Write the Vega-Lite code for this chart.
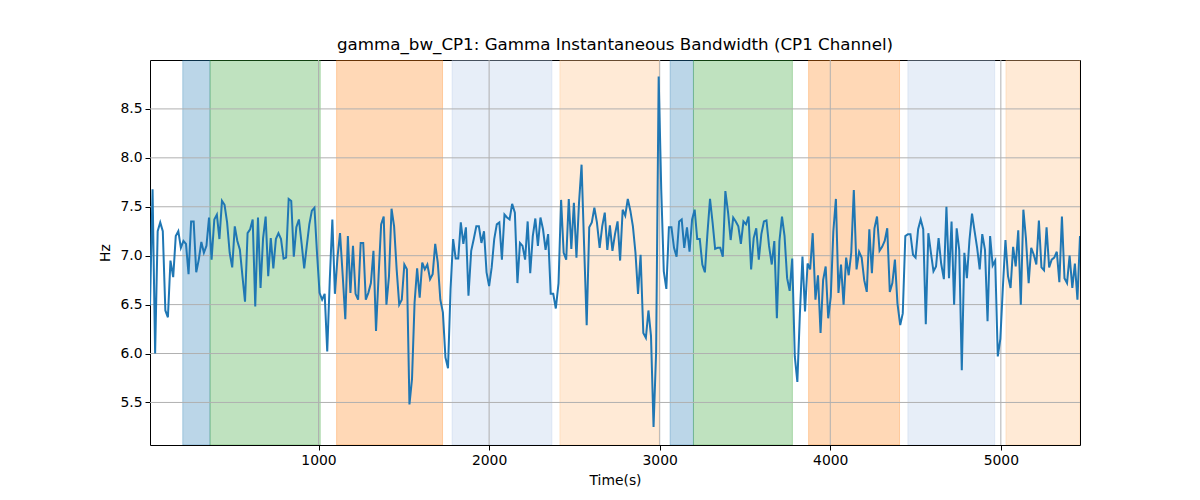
{
  "$schema": "https://vega.github.io/schema/vega-lite/v6.json",
  "description": "gamma_bw_CP1: Gamma Instantaneous Bandwidth (CP1 Channel)",
  "width": 930,
  "height": 385,
  "autosize": "none",
  "padding": {"left": 150, "top": 60, "right": 120, "bottom": 55},
  "title": {
    "text": "gamma_bw_CP1: Gamma Instantaneous Bandwidth (CP1 Channel)",
    "fontSize": 16.7,
    "fontWeight": "normal",
    "font": "DejaVu Sans",
    "color": "black",
    "anchor": "middle",
    "offset": 6
  },
  "datasets": {
    "spans": [
      {"start": 204, "end": 364, "kind": "blue"},
      {"start": 364, "end": 1010, "kind": "green"},
      {"start": 1106, "end": 1727, "kind": "orange"},
      {"start": 1783, "end": 2368, "kind": "lightblue"},
      {"start": 2415, "end": 2997, "kind": "lightorange"},
      {"start": 3061, "end": 3198, "kind": "blue"},
      {"start": 3198, "end": 3778, "kind": "green"},
      {"start": 3873, "end": 4406, "kind": "orange"},
      {"start": 4455, "end": 4964, "kind": "lightblue"},
      {"start": 5030, "end": 5464, "kind": "lightorange"}
    ],
    "xgrid": [{"g": 1000}, {"g": 2000}, {"g": 3000}, {"g": 4000}, {"g": 5000}],
    "ygrid": [{"g": 5.5}, {"g": 6.0}, {"g": 6.5}, {"g": 7.0}, {"g": 7.5}, {"g": 8.0}, {"g": 8.5}],
    "series": [
      {"t": 12, "v": 6.49}, {"t": 27, "v": 7.68}, {"t": 42, "v": 6.0}, {"t": 57, "v": 7.25}, {"t": 72, "v": 7.34},
      {"t": 87, "v": 7.25}, {"t": 102, "v": 6.44}, {"t": 117, "v": 6.37}, {"t": 132, "v": 6.95}, {"t": 148, "v": 6.78},
      {"t": 163, "v": 7.2}, {"t": 178, "v": 7.25}, {"t": 193, "v": 7.08}, {"t": 208, "v": 7.15}, {"t": 223, "v": 7.12},
      {"t": 238, "v": 6.81}, {"t": 253, "v": 7.35}, {"t": 268, "v": 7.35}, {"t": 283, "v": 6.83}, {"t": 298, "v": 6.96},
      {"t": 313, "v": 7.14}, {"t": 328, "v": 7.03}, {"t": 343, "v": 7.1}, {"t": 358, "v": 7.39}, {"t": 373, "v": 6.96},
      {"t": 389, "v": 7.37}, {"t": 404, "v": 7.42}, {"t": 419, "v": 7.17}, {"t": 434, "v": 7.56}, {"t": 449, "v": 7.52},
      {"t": 464, "v": 7.34}, {"t": 479, "v": 7.03}, {"t": 494, "v": 6.88}, {"t": 509, "v": 7.3}, {"t": 524, "v": 7.15},
      {"t": 539, "v": 7.06}, {"t": 554, "v": 6.79}, {"t": 569, "v": 6.53}, {"t": 584, "v": 7.23}, {"t": 599, "v": 7.27},
      {"t": 614, "v": 7.37}, {"t": 629, "v": 6.48}, {"t": 645, "v": 7.39}, {"t": 660, "v": 6.67}, {"t": 675, "v": 7.18},
      {"t": 690, "v": 7.4}, {"t": 705, "v": 6.79}, {"t": 720, "v": 7.18}, {"t": 735, "v": 6.87}, {"t": 750, "v": 7.17},
      {"t": 765, "v": 7.23}, {"t": 780, "v": 7.17}, {"t": 795, "v": 6.97}, {"t": 810, "v": 6.98}, {"t": 825, "v": 7.58},
      {"t": 840, "v": 7.56}, {"t": 855, "v": 6.99}, {"t": 870, "v": 7.29}, {"t": 885, "v": 7.37}, {"t": 901, "v": 7.12},
      {"t": 916, "v": 6.87}, {"t": 931, "v": 7.1}, {"t": 946, "v": 7.32}, {"t": 961, "v": 7.46}, {"t": 976, "v": 7.49},
      {"t": 991, "v": 7.03}, {"t": 1006, "v": 6.62}, {"t": 1021, "v": 6.55}, {"t": 1036, "v": 6.61}, {"t": 1051, "v": 6.02},
      {"t": 1066, "v": 6.76}, {"t": 1081, "v": 7.37}, {"t": 1096, "v": 6.61}, {"t": 1111, "v": 6.98}, {"t": 1126, "v": 7.23},
      {"t": 1142, "v": 6.79}, {"t": 1157, "v": 6.35}, {"t": 1172, "v": 7.2}, {"t": 1187, "v": 6.62}, {"t": 1202, "v": 7.1},
      {"t": 1217, "v": 6.61}, {"t": 1232, "v": 6.55}, {"t": 1247, "v": 7.13}, {"t": 1262, "v": 7.13}, {"t": 1277, "v": 6.55},
      {"t": 1292, "v": 6.62}, {"t": 1307, "v": 6.72}, {"t": 1322, "v": 7.05}, {"t": 1337, "v": 6.23}, {"t": 1352, "v": 6.79},
      {"t": 1367, "v": 7.32}, {"t": 1382, "v": 7.4}, {"t": 1398, "v": 6.5}, {"t": 1413, "v": 6.79}, {"t": 1428, "v": 7.48},
      {"t": 1443, "v": 7.3}, {"t": 1458, "v": 6.86}, {"t": 1473, "v": 6.5}, {"t": 1488, "v": 6.55}, {"t": 1503, "v": 6.91},
      {"t": 1518, "v": 6.86}, {"t": 1533, "v": 5.48}, {"t": 1548, "v": 5.74}, {"t": 1563, "v": 6.52}, {"t": 1578, "v": 6.87},
      {"t": 1593, "v": 6.57}, {"t": 1608, "v": 6.93}, {"t": 1623, "v": 6.86}, {"t": 1638, "v": 6.91}, {"t": 1654, "v": 6.76},
      {"t": 1669, "v": 6.81}, {"t": 1684, "v": 7.12}, {"t": 1699, "v": 6.93}, {"t": 1714, "v": 6.55}, {"t": 1729, "v": 6.42},
      {"t": 1744, "v": 5.96}, {"t": 1759, "v": 5.85}, {"t": 1774, "v": 6.66}, {"t": 1789, "v": 7.17}, {"t": 1804, "v": 6.97},
      {"t": 1819, "v": 6.97}, {"t": 1834, "v": 7.34}, {"t": 1849, "v": 7.12}, {"t": 1864, "v": 7.29}, {"t": 1879, "v": 6.59},
      {"t": 1895, "v": 7.05}, {"t": 1910, "v": 7.17}, {"t": 1925, "v": 7.3}, {"t": 1940, "v": 7.3}, {"t": 1955, "v": 7.13},
      {"t": 1970, "v": 7.25}, {"t": 1985, "v": 6.83}, {"t": 2000, "v": 6.69}, {"t": 2015, "v": 6.88}, {"t": 2030, "v": 7.17},
      {"t": 2045, "v": 7.32}, {"t": 2060, "v": 7.34}, {"t": 2075, "v": 6.96}, {"t": 2090, "v": 7.42}, {"t": 2105, "v": 7.39},
      {"t": 2120, "v": 7.37}, {"t": 2135, "v": 7.53}, {"t": 2151, "v": 7.44}, {"t": 2166, "v": 6.72}, {"t": 2181, "v": 7.13},
      {"t": 2196, "v": 7.1}, {"t": 2211, "v": 6.96}, {"t": 2226, "v": 7.35}, {"t": 2241, "v": 6.82}, {"t": 2256, "v": 7.2},
      {"t": 2271, "v": 7.38}, {"t": 2286, "v": 7.1}, {"t": 2301, "v": 7.39}, {"t": 2316, "v": 7.27}, {"t": 2331, "v": 7.06},
      {"t": 2346, "v": 7.22}, {"t": 2361, "v": 6.61}, {"t": 2376, "v": 6.61}, {"t": 2391, "v": 6.46}, {"t": 2407, "v": 6.72},
      {"t": 2422, "v": 7.57}, {"t": 2437, "v": 7.03}, {"t": 2452, "v": 6.96}, {"t": 2467, "v": 7.58}, {"t": 2482, "v": 7.07},
      {"t": 2497, "v": 7.54}, {"t": 2512, "v": 6.98}, {"t": 2527, "v": 7.54}, {"t": 2542, "v": 7.93}, {"t": 2557, "v": 7.1},
      {"t": 2572, "v": 6.29}, {"t": 2587, "v": 7.29}, {"t": 2602, "v": 7.34}, {"t": 2617, "v": 7.49}, {"t": 2632, "v": 7.34},
      {"t": 2648, "v": 7.08}, {"t": 2663, "v": 7.3}, {"t": 2678, "v": 7.44}, {"t": 2693, "v": 7.06}, {"t": 2708, "v": 7.31},
      {"t": 2723, "v": 7.05}, {"t": 2738, "v": 7.22}, {"t": 2753, "v": 7.35}, {"t": 2768, "v": 6.95}, {"t": 2783, "v": 7.47},
      {"t": 2798, "v": 7.41}, {"t": 2813, "v": 7.58}, {"t": 2828, "v": 7.46}, {"t": 2843, "v": 7.3}, {"t": 2858, "v": 7.03},
      {"t": 2873, "v": 6.61}, {"t": 2888, "v": 7.01}, {"t": 2904, "v": 6.21}, {"t": 2919, "v": 6.16}, {"t": 2934, "v": 6.44},
      {"t": 2949, "v": 6.18}, {"t": 2964, "v": 5.25}, {"t": 2979, "v": 6.01}, {"t": 2994, "v": 8.83}, {"t": 3009, "v": 7.68},
      {"t": 3024, "v": 6.84}, {"t": 3039, "v": 6.66}, {"t": 3054, "v": 7.29}, {"t": 3069, "v": 7.29}, {"t": 3084, "v": 7.08},
      {"t": 3099, "v": 6.99}, {"t": 3114, "v": 7.35}, {"t": 3129, "v": 7.37}, {"t": 3144, "v": 7.08}, {"t": 3160, "v": 7.29},
      {"t": 3175, "v": 7.04}, {"t": 3190, "v": 7.37}, {"t": 3205, "v": 7.47}, {"t": 3220, "v": 7.17}, {"t": 3235, "v": 7.17},
      {"t": 3250, "v": 6.91}, {"t": 3265, "v": 6.83}, {"t": 3280, "v": 7.23}, {"t": 3295, "v": 7.58}, {"t": 3310, "v": 7.34},
      {"t": 3325, "v": 7.07}, {"t": 3340, "v": 7.08}, {"t": 3355, "v": 7.08}, {"t": 3370, "v": 6.99}, {"t": 3385, "v": 7.66},
      {"t": 3401, "v": 7.44}, {"t": 3416, "v": 7.16}, {"t": 3431, "v": 7.39}, {"t": 3446, "v": 7.35}, {"t": 3461, "v": 7.3},
      {"t": 3476, "v": 7.12}, {"t": 3491, "v": 7.35}, {"t": 3506, "v": 7.32}, {"t": 3521, "v": 7.4}, {"t": 3536, "v": 6.86},
      {"t": 3551, "v": 7.18}, {"t": 3566, "v": 7.28}, {"t": 3581, "v": 6.96}, {"t": 3596, "v": 7.22}, {"t": 3611, "v": 7.35},
      {"t": 3626, "v": 7.36}, {"t": 3641, "v": 7.1}, {"t": 3657, "v": 6.91}, {"t": 3672, "v": 7.15}, {"t": 3687, "v": 6.36},
      {"t": 3702, "v": 7.15}, {"t": 3717, "v": 7.4}, {"t": 3732, "v": 7.2}, {"t": 3747, "v": 6.77}, {"t": 3762, "v": 6.64},
      {"t": 3777, "v": 6.97}, {"t": 3792, "v": 5.97}, {"t": 3807, "v": 5.71}, {"t": 3822, "v": 6.41}, {"t": 3837, "v": 6.99},
      {"t": 3852, "v": 6.43}, {"t": 3867, "v": 6.92}, {"t": 3882, "v": 6.86}, {"t": 3897, "v": 7.23}, {"t": 3913, "v": 6.55},
      {"t": 3928, "v": 6.8}, {"t": 3943, "v": 6.21}, {"t": 3958, "v": 6.75}, {"t": 3973, "v": 6.89}, {"t": 3988, "v": 6.36},
      {"t": 4003, "v": 6.58}, {"t": 4018, "v": 7.25}, {"t": 4033, "v": 7.58}, {"t": 4048, "v": 6.62}, {"t": 4063, "v": 6.91},
      {"t": 4078, "v": 6.5}, {"t": 4093, "v": 6.98}, {"t": 4108, "v": 6.8}, {"t": 4123, "v": 7.03}, {"t": 4138, "v": 7.67},
      {"t": 4154, "v": 6.86}, {"t": 4169, "v": 7.04}, {"t": 4184, "v": 6.98}, {"t": 4199, "v": 6.75}, {"t": 4214, "v": 6.63},
      {"t": 4229, "v": 7.27}, {"t": 4244, "v": 6.82}, {"t": 4259, "v": 7.28}, {"t": 4274, "v": 7.4}, {"t": 4289, "v": 7.05},
      {"t": 4304, "v": 7.09}, {"t": 4319, "v": 7.15}, {"t": 4334, "v": 7.28}, {"t": 4349, "v": 6.63}, {"t": 4364, "v": 6.72},
      {"t": 4379, "v": 6.96}, {"t": 4394, "v": 6.51}, {"t": 4410, "v": 6.29}, {"t": 4425, "v": 6.41}, {"t": 4440, "v": 7.2},
      {"t": 4455, "v": 7.22}, {"t": 4470, "v": 7.22}, {"t": 4485, "v": 7.01}, {"t": 4500, "v": 6.98}, {"t": 4515, "v": 7.27},
      {"t": 4530, "v": 7.37}, {"t": 4545, "v": 7.27}, {"t": 4560, "v": 6.3}, {"t": 4575, "v": 7.23}, {"t": 4590, "v": 7.03},
      {"t": 4605, "v": 6.84}, {"t": 4620, "v": 6.89}, {"t": 4635, "v": 7.18}, {"t": 4650, "v": 6.92}, {"t": 4666, "v": 6.76},
      {"t": 4681, "v": 7.5}, {"t": 4696, "v": 6.77}, {"t": 4711, "v": 7.35}, {"t": 4726, "v": 6.5}, {"t": 4741, "v": 7.28},
      {"t": 4756, "v": 7.06}, {"t": 4771, "v": 5.83}, {"t": 4786, "v": 7.03}, {"t": 4801, "v": 6.77}, {"t": 4816, "v": 7.16},
      {"t": 4831, "v": 7.43}, {"t": 4846, "v": 7.25}, {"t": 4861, "v": 7.08}, {"t": 4876, "v": 6.86}, {"t": 4891, "v": 7.22},
      {"t": 4907, "v": 7.06}, {"t": 4922, "v": 6.33}, {"t": 4937, "v": 7.2}, {"t": 4952, "v": 6.9}, {"t": 4967, "v": 6.95},
      {"t": 4982, "v": 5.97}, {"t": 4997, "v": 6.15}, {"t": 5012, "v": 6.68}, {"t": 5027, "v": 7.16}, {"t": 5042, "v": 6.79},
      {"t": 5057, "v": 6.67}, {"t": 5072, "v": 7.09}, {"t": 5087, "v": 6.89}, {"t": 5102, "v": 7.26}, {"t": 5117, "v": 6.5},
      {"t": 5132, "v": 7.47}, {"t": 5147, "v": 7.18}, {"t": 5163, "v": 6.72}, {"t": 5178, "v": 7.08}, {"t": 5193, "v": 7.01},
      {"t": 5208, "v": 6.91}, {"t": 5223, "v": 7.36}, {"t": 5238, "v": 6.88}, {"t": 5253, "v": 6.85}, {"t": 5268, "v": 7.29},
      {"t": 5283, "v": 6.88}, {"t": 5298, "v": 6.96}, {"t": 5313, "v": 6.98}, {"t": 5328, "v": 7.04}, {"t": 5343, "v": 6.73},
      {"t": 5358, "v": 7.4}, {"t": 5373, "v": 6.77}, {"t": 5388, "v": 6.72}, {"t": 5403, "v": 7.0}, {"t": 5419, "v": 6.67},
      {"t": 5434, "v": 6.92}, {"t": 5449, "v": 6.55}, {"t": 5464, "v": 7.2}
    ]
  },
  "layer": [
    {
      "data": {"name": "spans"},
      "mark": {"type": "rect", "fillOpacity": 0.3, "strokeOpacity": 0.3, "strokeWidth": 1, "clip": true},
      "encoding": {
        "x": {"field": "start", "type": "quantitative", "scale": {"domain": [12, 5464], "nice": false, "zero": false}},
        "x2": {"field": "end"},
        "fill": {
          "field": "kind",
          "type": "nominal",
          "scale": {"domain": ["blue", "green", "orange", "lightblue", "lightorange"], "range": ["#1f77b4", "#2ca02c", "#ff7f0e", "#aec7e8", "#ffbb78"]},
          "legend": null
        },
        "stroke": {
          "field": "kind",
          "type": "nominal",
          "scale": {"domain": ["blue", "green", "orange", "lightblue", "lightorange"], "range": ["#1f77b4", "#2ca02c", "#ff7f0e", "#aec7e8", "#ffbb78"]},
          "legend": null
        }
      }
    },
    {
      "data": {"name": "xgrid"},
      "mark": {"type": "rule", "color": "#b0b0b0", "strokeWidth": 1},
      "encoding": {"x": {"field": "g", "type": "quantitative"}}
    },
    {
      "data": {"name": "ygrid"},
      "mark": {"type": "rule", "color": "#b0b0b0", "strokeWidth": 1},
      "encoding": {"y": {"field": "g", "type": "quantitative"}}
    },
    {
      "data": {"name": "series"},
      "mark": {"type": "line", "color": "#1f77b4", "strokeWidth": 2, "clip": true},
      "encoding": {
        "x": {
          "field": "t",
          "type": "quantitative",
          "title": "Time(s)",
          "axis": {"values": [1000, 2000, 3000, 4000, 5000], "format": "d"}
        },
        "y": {
          "field": "v",
          "type": "quantitative",
          "title": "Hz",
          "scale": {"domain": [5.065, 9.0], "nice": false, "zero": false},
          "axis": {"values": [5.5, 6.0, 6.5, 7.0, 7.5, 8.0, 8.5], "format": ".1f"}
        }
      }
    }
  ],
  "config": {
    "font": "DejaVu Sans",
    "view": {"stroke": "black", "strokeWidth": 1},
    "axis": {
      "grid": false,
      "domain": false,
      "tickColor": "black",
      "tickSize": 5,
      "tickWidth": 1,
      "labelColor": "black",
      "labelFont": "DejaVu Sans",
      "labelFontSize": 13.9,
      "labelPadding": 3,
      "titleColor": "black",
      "titleFont": "DejaVu Sans",
      "titleFontSize": 13.9,
      "titleFontWeight": "normal"
    },
    "axisX": {"titlePadding": 7},
    "axisY": {"titlePadding": 7}
  }
}
